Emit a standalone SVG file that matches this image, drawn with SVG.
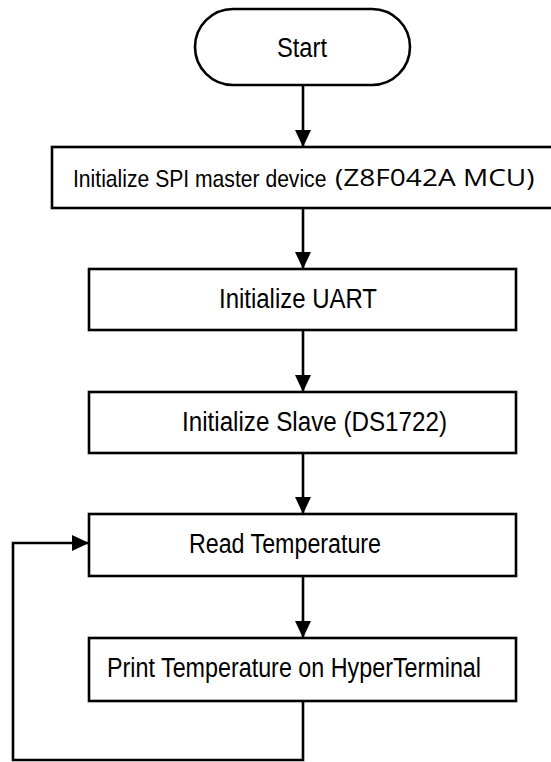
<svg xmlns="http://www.w3.org/2000/svg" width="551" height="762" viewBox="0 0 551 762">
  <style>
    .box { fill: #fff; stroke: #000; stroke-width: 2.6; }
    .lbl { font-family: "Liberation Sans", Arial, sans-serif; font-size: 27px; fill: #000; }
    .small { font-size: 24px; }
    .alt { font-family: "Open Sans", "Noto Sans", sans-serif; font-size: 23px; fill: #000; }
    .wire { fill: none; stroke: #000; stroke-width: 2.6; }
  </style>
  <defs>
    <marker id="arrow" markerUnits="userSpaceOnUse" markerWidth="17" markerHeight="16" refX="17" refY="8" orient="auto">
      <path d="M0,0 L17,8 L0,16 z" fill="#000"/>
    </marker>
  </defs>

  <g id="connectors">
    <line class="wire" x1="303" y1="85" x2="303" y2="147" marker-end="url(#arrow)"/>
    <line class="wire" x1="303" y1="208" x2="303" y2="269" marker-end="url(#arrow)"/>
    <line class="wire" x1="303" y1="330" x2="303" y2="392" marker-end="url(#arrow)"/>
    <line class="wire" x1="303" y1="453" x2="303" y2="514" marker-end="url(#arrow)"/>
    <line class="wire" x1="303" y1="576" x2="303" y2="638" marker-end="url(#arrow)"/>
    <polyline class="wire" points="303,701 303,760 13,760 13,543 89,543" marker-end="url(#arrow)"/>
  </g>

  <g id="start">
    <rect class="box" x="195" y="9" width="215" height="76" rx="38" ry="38"/>
    <text class="lbl" x="277" y="57" textLength="50" lengthAdjust="spacingAndGlyphs">Start</text>
  </g>

  <g id="init-spi">
    <rect class="box" x="52" y="147" width="510" height="61"/>
    <!-- narrowed / widened runs so the two parts sit side by side -->
    <text class="lbl small" transform="translate(73,187) scale(0.88,1)">Initialize SPI master device</text>
    <text class="alt" transform="translate(335,186) scale(1.22,1)">(Z8F042A MCU)</text>
  </g>

  <g id="init-uart">
    <rect class="box" x="89" y="269" width="427" height="61"/>
    <text class="lbl" x="219" y="308" textLength="158" lengthAdjust="spacingAndGlyphs">Initialize UART</text>
  </g>

  <g id="init-slave">
    <rect class="box" x="89" y="392" width="427" height="61"/>
    <text class="lbl" x="182" y="431" textLength="265" lengthAdjust="spacingAndGlyphs">Initialize Slave (DS1722)</text>
  </g>

  <g id="read-temp">
    <rect class="box" x="89" y="514" width="427" height="62"/>
    <text class="lbl" x="189" y="553" textLength="192" lengthAdjust="spacingAndGlyphs">Read Temperature</text>
  </g>

  <g id="print-temp">
    <rect class="box" x="89" y="638" width="427" height="63"/>
    <text class="lbl" x="107" y="677" textLength="374" lengthAdjust="spacingAndGlyphs">Print Temperature on HyperTerminal</text>
  </g>
</svg>
